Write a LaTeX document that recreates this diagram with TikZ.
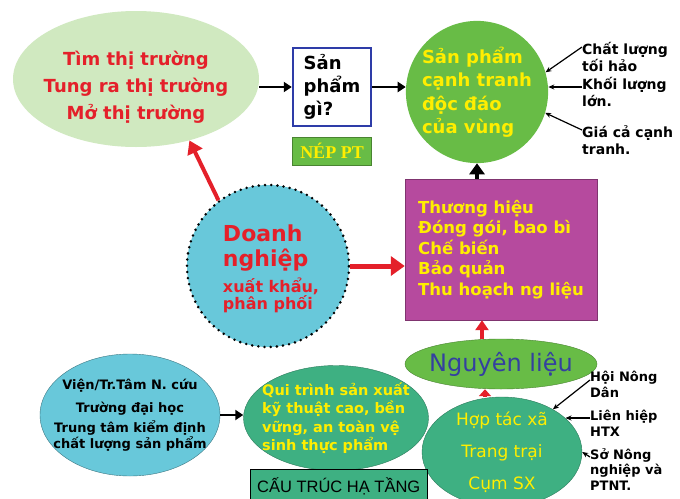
\documentclass[tikz,border=0pt]{standalone}
\usepackage{fontspec}
\setmainfont{DejaVu Sans}
\newfontfamily\arialfont{Liberation Sans}
\newfontfamily\timesfont{Liberation Serif}
\usetikzlibrary{shapes.geometric,arrows.meta}
\definecolor{mktgreen}{RGB}{208,233,192}
\definecolor{spgreen}{RGB}{104,188,70}
\definecolor{tbpurple}{RGB}{182,74,158}
\definecolor{dncyan}{RGB}{104,200,218}
\definecolor{qtteal}{RGB}{62,176,130}
\definecolor{boxblue}{RGB}{46,60,168}
\definecolor{ngblue}{RGB}{52,64,160}
\definecolor{txtred}{RGB}{228,32,42}
\definecolor{txtyel}{RGB}{255,238,0}

\newcommand{\bigdn}{\fontsize{22}{24}\selectfont}
\newcommand{\smalldn}{\fontsize{16}{18}\selectfont}

\begin{document}
\begin{tikzpicture}[x=1pt,y=-1pt,
    oval/.style={ellipse, inner sep=-60pt},
    blk/.style={-{Triangle[length=8pt,width=10pt]}, line width=2.4pt},
    redarr/.style={-{Triangle[length=14pt,width=19pt]}, line width=5pt, txtred},
    lblarr/.style={-{Stealth[length=6pt,width=5pt]}, line width=1.2pt},
    lbl/.style={anchor=north west, inner sep=0pt, align=left,
        font=\bfseries\fontsize{14}{17}\selectfont}]
    \clip (0,0) rectangle (680,498);
    \fill[white] (0,0) rectangle (680,498);

    % top row
    \node[oval, fill=mktgreen, minimum width=246pt, minimum height=136pt] (mk) at (136,79) {};
    \node[text=txtred, align=center, font=\bfseries\fontsize{18}{27}\selectfont]
        (mktxt) at ([yshift=-8pt]mk.center) {Tìm thị trường\\Tung ra thị trường\\Mở thị trường};
    \node[draw=boxblue, line width=2.5pt, fill=white, minimum width=78pt,
        minimum height=78pt, align=left, font=\bfseries\fontsize{18}{23}\selectfont]
        (sq) at (332,87) {Sản\\phẩm\\gì?};
    \node[fill=spgreen, draw=spgreen!70!black, minimum width=79pt, minimum height=28pt,
        text=txtyel, font=\timesfont\bfseries\fontsize{18}{18}\selectfont]
        (nep) at (332,151) {NÉP PT};
    \node[circle, fill=spgreen, minimum size=142pt, inner sep=0pt, text=txtyel,
        align=left, font=\bfseries\fontsize{18}{23.5}\selectfont]
        (sp) at (477,92) {Sản phẩm\\cạnh tranh\\độc đáo\\của vùng};
    \node[lbl] (cl) at (582,42) {Chất lượng\\tối hảo};
    \node[lbl] (kl) at (582,77) {Khối lượng\\lớn.};
    \node[lbl] (gc) at (582,125) {Giá cả cạnh\\tranh.};

    % middle row
    \node[fill=tbpurple, draw=tbpurple!70!black, minimum width=192pt, minimum height=141pt,
        text=txtyel, align=left, font=\bfseries\fontsize{16.5}{20.5}\selectfont]
        (tb) at (501,249.5) {Thương hiệu\\Đóng gói, bao bì\\Chế biến\\Bảo quản\\Thu hoạch ng liệu};
    \node[circle, fill=dncyan, draw=black, line width=2.8pt, line cap=round,
        dash pattern=on 0pt off 6.2pt, minimum size=162pt, inner sep=0pt] (dn) at (268,266) {};
    \node[text=txtred, align=left, font=\bfseries] (dntxt) at ([xshift=3pt,yshift=-3pt]dn.center)
        {\bigdn Doanh\\[6pt]\bigdn nghiệp\\[6pt]\smalldn xuất khẩu,\\\smalldn phân phối};

    % bottom row
    \node[oval, fill=spgreen, draw=spgreen!70!black, minimum width=192pt,
        minimum height=50pt, text=ngblue, font=\fontsize{24}{24}\selectfont]
        (ngl) at (501,364) {Nguyên liệu};
    \node[oval, fill=qtteal, draw=qtteal!70!black, minimum width=160pt,
        minimum height=110pt, text=txtyel, align=center,
        font=\fontsize{17}{32}\selectfont]
        (hop) at (502,452) {Hợp tác xã\\Trang trại\\Cụm SX};
    \node[lbl, font=\bfseries\fontsize{13}{15.5}\selectfont] (hn) at (590,371) {Hội Nông\\Dân};
    \node[lbl, font=\bfseries\fontsize{13}{15.5}\selectfont] (lh) at (590,410) {Liên hiệp\\HTX};
    \node[lbl, font=\bfseries\fontsize{13}{15.5}\selectfont] (sn) at (590,448) {Sở Nông\\nghiệp và\\PTNT.};
    \node[oval, fill=dncyan, draw=dncyan!60!black, minimum width=180pt,
        minimum height=122pt, align=center, font=\bfseries\fontsize{13}{15.5}\selectfont]
        (re) at (130,415) {Viện/Tr.Tâm N. cứu\\[7pt]Trường đại học\\[5pt]Trung tâm kiểm định\\chất lượng sản phẩm};
    \node[oval, fill=qtteal, draw=qtteal!70!black, minimum width=185pt,
        minimum height=105pt, text=txtyel, align=left,
        font=\bfseries\fontsize{14.5}{18.5}\selectfont]
        (qt) at (336,418) {Qui trình sản xuất\\kỹ thuật cao, bền\\vững, an toàn vệ\\sinh thực phẩm};
    \node[draw=black, fill=qtteal, minimum width=177pt, minimum height=34pt,
        anchor=north west, font=\arialfont\fontsize{16.5}{16.5}\selectfont]
        (ct) at (250,469) {CẤU TRÚC HẠ TẦNG};

    % connectors
    \draw[blk] (mk.east |- sq.west) -- (sq.west);
    \draw[blk] (sq.east) -- (sq.east -| sp.west);
    \draw[blk, line width=4.5pt, -{Triangle[length=11pt,width=15pt]}] (sp.south |- tb.north) -- (sp.south);
    \draw[lblarr] ([yshift=-5pt]cl.north west) -- (sp.16);
    \draw[lblarr] ([yshift=-10pt]kl.north west) -- ([yshift=-10pt]kl.north west -| sp.east);
    \draw[lblarr] ([yshift=-5pt]gc.north west) -- (sp.-17);
    \draw[redarr] (dn.east) -- (dn.east -| tb.west);
    \draw[redarr, line width=4pt, -{Triangle[length=13pt,width=16pt]}] (dn.127) -- (mk.-49);
    \draw[redarr, line width=3.5pt, -{Triangle[length=10pt,width=13pt]}] ([xshift=-19pt]ngl.north) -- ([xshift=-19pt]ngl.north |- tb.south);
    \draw[redarr, line width=3.5pt, -{Triangle[length=7pt,width=12pt]}] ([xshift=-17pt]hop.north) -- ([xshift=-17pt]hop.north |- ngl.south);
    \draw[lblarr] ([yshift=-9pt]hn.north west) -- (hop.40);
    \draw[lblarr] ([yshift=-8pt]lh.north west) -- ([yshift=-8pt]lh.north west -| hop.28);
    \draw[lblarr] ([yshift=-9pt]sn.north west) -- (hop.east);
    \draw[blk] (re.east) -- (re.east -| qt.west);
\end{tikzpicture}
\end{document}
